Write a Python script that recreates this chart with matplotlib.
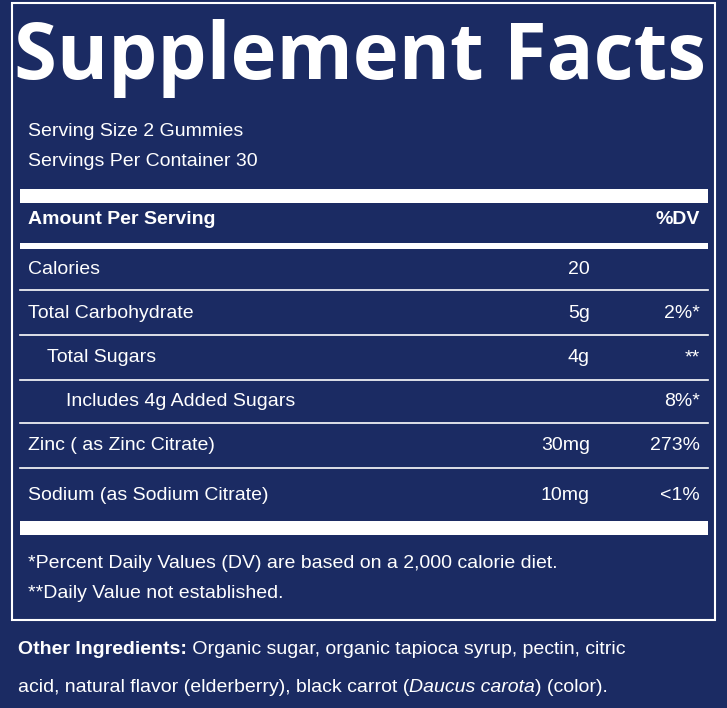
import matplotlib
matplotlib.use("Agg")
import matplotlib.pyplot as plt
from matplotlib.patches import Rectangle

BG = "#1b2b63"
FG = "white"
BODY = ["Liberation Sans", "DejaVu Sans"]

title = "Supplement Facts"
serving_lines = ["Serving Size 2 Gummies", "Servings Per Container 30"]
header = ("Amount Per Serving", "%DV")
nutrients = ["Calories", "Total Carbohydrate", "Total Sugars",
             "Includes 4g Added Sugars", "Zinc ( as Zinc Citrate)",
             "Sodium (as Sodium Citrate)"]
indent = [0, 0, 1, 2, 0, 0]
amounts = ["20", "5g", "4g", "", "30mg", "10mg"]
dv = ["", "2%*", "**", "8%*", "273%", "<1%"]
footnotes = ["*Percent Daily Values (DV) are based on a 2,000 calorie diet.",
             "**Daily Value not established."]
ingredients = [
    [("Other Ingredients:", "bold", "normal"),
     (" Organic sugar, organic tapioca syrup, pectin, citric", "normal", "normal")],
    [("acid, natural flavor (elderberry), black carrot (", "normal", "normal"),
     ("Daucus carota", "normal", "italic"),
     (") (color).", "normal", "normal")],
]

fig = plt.figure(figsize=(7.27, 7.08), dpi=100, facecolor=BG)
ax = fig.add_axes([0, 0, 1, 1])
ax.set_xlim(0, 727)
ax.set_ylim(708, 0)
ax.axis("off")
ax.set_facecolor(BG)

ax.add_patch(Rectangle((12, 3), 703, 617, fill=False, ec=FG, lw=1.5))
ax.text(360, 58, title, color=FG, fontsize=56, fontweight="bold",
        family=["Open Sans", "DejaVu Sans"], ha="center", va="center")

fs = 14
for i, s in enumerate(serving_lines):
    ax.text(28, 132 + 29 * i, s, color=FG, fontsize=fs, family=BODY, va="center")

ax.add_patch(Rectangle((20, 189), 688, 14, color=FG, lw=0))
ax.text(28, 219, header[0], color=FG, fontsize=fs, fontweight="bold", family=BODY, va="center")
ax.text(700, 219, header[1], color=FG, fontsize=fs, fontweight="bold", family=BODY,
        va="center", ha="right")
ax.add_patch(Rectangle((20, 243), 688, 6, color=FG, lw=0))

row_y = [270, 313, 358, 402, 445, 495]
line_y = [290, 335, 380, 423, 468]
for name, ind, amt, d, y in zip(nutrients, indent, amounts, dv, row_y):
    ax.text(28 + 19 * ind, y, name, color=FG, fontsize=fs, family=BODY, va="center")
    ax.text(590, y, amt, color=FG, fontsize=fs, family=BODY, va="center", ha="right")
    ax.text(700, y, d, color=FG, fontsize=fs, family=BODY, va="center", ha="right")
for y in line_y:
    ax.plot([20, 708], [y, y], color=FG, lw=1.2)
ax.add_patch(Rectangle((20, 521), 688, 14, color=FG, lw=0))

for i, s in enumerate(footnotes):
    ax.text(28, 564 + 30 * i, s, color=FG, fontsize=fs, family=BODY, va="center")

fig.canvas.draw()
r = fig.canvas.get_renderer()
inv = ax.transData.inverted()
for i, pieces in enumerate(ingredients):
    x = 18
    for s, w, st in pieces:
        t = ax.text(x, 649 + 38 * i, s, color=FG, fontsize=fs, family=BODY,
                    fontweight=w, fontstyle=st, va="center")
        bb = t.get_window_extent(r)
        x = inv.transform((bb.x1, bb.y0))[0]

fig.savefig("out.png", dpi=100, facecolor=BG)
